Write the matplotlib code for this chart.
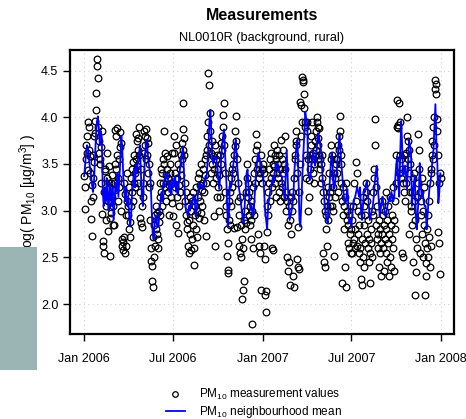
import matplotlib
matplotlib.use("Agg")
import matplotlib.pyplot as plt
import matplotlib.dates as mdates
from matplotlib.lines import Line2D
import numpy as np
import pandas as pd

plt.rcParams["font.family"] = ["Liberation Sans", "DejaVu Sans"]
plt.rcParams["mathtext.fontset"] = "custom"
plt.rcParams["mathtext.rm"] = "Liberation Sans"
plt.rcParams["mathtext.it"] = "Liberation Sans:italic"

TITLE = "Measurements"
SUBTITLE = "NL0010R (background, rural)"
YLABEL = "log( PM$_{10}$ [µg/m$^3$] )"
LEG_POINTS = "PM$_{10}$ measurement values"
LEG_LINE = "PM$_{10}$ neighbourhood mean"

# daily log(PM10) measurements, one list per month
obs_months = {
    "2006-01": [3.37, 3.02, 3.25, 3.55, 3.70, 3.62, 3.80, 3.44, 3.95, 3.90, 3.65, 3.58, 3.40, 3.10, 2.91, 2.73,
                3.28, 3.60, 3.15, 3.35, 3.52, 3.80, 3.96, 3.83, 4.08, 4.26, 4.62, 4.55, 4.42, 3.90, 3.62],
    "2006-02": [3.75, 3.50, 3.55, 3.68, 3.30, 3.85, 2.96, 2.68, 2.62, 3.20, 2.55, 3.45, 3.42, 3.05, 2.90, 3.62,
                3.35, 2.78, 3.10, 3.48, 3.30, 2.92, 2.51, 2.98, 3.30, 3.38, 3.15, 2.85],
    "2006-03": [3.05, 2.85, 3.30, 3.86, 3.50, 3.22, 3.45, 3.80, 3.88, 3.60, 3.10, 3.35, 3.55, 3.25, 3.68, 3.84,
                3.72, 3.00, 2.70, 2.62, 2.66, 2.58, 2.72, 3.30, 2.55, 3.18, 2.95, 2.62, 3.10, 3.40, 3.05],
    "2006-04": [2.95, 3.25, 2.80, 2.72, 2.88, 3.05, 3.35, 3.20, 3.45, 3.52, 3.10, 3.30, 3.60, 3.25, 3.40, 3.55,
                3.82, 3.48, 3.75, 3.65, 3.30, 3.78, 3.90, 3.60, 3.20, 2.92, 3.45, 2.87, 3.05, 2.82],
    "2006-05": [3.15, 3.30, 3.62, 3.85, 3.70, 3.80, 3.87, 3.55, 3.78, 3.60, 3.72, 3.40, 3.50, 3.25, 3.30, 2.90,
                2.46, 2.60, 2.41, 2.25, 2.18, 2.72, 2.50, 2.85, 2.62, 2.95, 3.05, 2.80, 2.75, 2.98, 2.70],
    "2006-06": [2.60, 2.88, 3.00, 3.15, 2.95, 3.30, 3.45, 3.20, 3.05, 3.40, 3.55, 3.30, 3.85, 3.50, 3.62, 3.25,
                3.38, 3.10, 3.45, 3.58, 3.20, 3.35, 3.28, 2.95, 3.40, 3.50, 3.15, 3.30, 3.62, 3.08],
    "2006-07": [3.30, 2.94, 3.62, 3.80, 3.40, 3.25, 2.85, 3.70, 3.35, 3.15, 2.76, 3.50, 3.28, 3.05, 3.45, 3.20,
                3.60, 3.38, 3.72, 3.55, 3.65, 3.87, 4.15, 3.78, 3.60, 3.30, 3.10, 2.95, 3.20, 2.88, 2.80],
    "2006-08": [2.62, 3.05, 2.90, 2.55, 3.15, 2.75, 3.00, 2.58, 3.10, 2.70, 2.85, 3.20, 2.42, 2.60, 3.05, 2.95,
                2.80, 3.25, 3.00, 2.72, 3.35, 3.15, 2.92, 3.40, 3.10, 3.28, 2.98, 3.50, 3.22, 3.05, 3.30],
    "2006-09": [3.45, 2.90, 3.20, 3.55, 3.38, 2.73, 3.60, 3.30, 3.65, 3.80, 4.47, 3.95, 3.70, 4.35, 4.05, 3.85,
                3.40, 3.62, 3.50, 3.75, 3.30, 3.58, 2.94, 3.45, 2.62, 3.70, 3.55, 3.35, 3.60, 3.15],
    "2006-10": [3.45, 3.25, 3.00, 3.38, 3.15, 3.60, 3.50, 3.72, 3.80, 3.65, 3.90, 4.02, 4.15, 3.70, 3.40, 3.20,
                2.95, 3.05, 2.80, 2.51, 2.65, 2.37, 2.33, 2.90, 3.10, 2.85, 3.20, 3.35, 3.05, 3.45, 3.25],
    "2006-11": [3.50, 3.40, 2.81, 3.60, 3.69, 3.85, 4.01, 3.75, 3.55, 2.82, 3.30, 3.10, 2.95, 2.62, 3.15, 2.55,
                2.85, 2.50, 2.70, 2.05, 2.60, 2.15, 2.90, 2.25, 2.80, 3.00, 2.87, 3.20, 3.35, 3.50],
    "2006-12": [3.30, 3.15, 2.95, 3.20, 2.85, 3.05, 2.70, 3.10, 2.90, 1.79, 3.00, 2.60, 3.25, 2.95, 3.40, 3.55,
                3.30, 3.65, 3.82, 3.70, 3.45, 3.50, 2.75, 3.35, 2.62, 3.40, 2.55, 3.60, 2.15, 3.30, 3.45],
    "2007-01": [3.45, 3.50, 2.62, 3.40, 2.48, 2.10, 1.92, 2.14, 2.77, 3.05, 2.95, 3.20, 3.30, 3.45, 3.10, 3.55,
                3.35, 3.62, 2.60, 3.25, 3.40, 2.58, 3.50, 3.70, 3.48, 3.60, 3.30, 3.55, 3.15, 3.40, 3.65],
    "2007-02": [3.35, 3.50, 3.20, 3.60, 3.10, 3.45, 3.30, 3.76, 3.55, 3.25, 3.40, 3.65, 3.50, 3.15, 3.80, 3.45,
                3.20, 3.00, 3.10, 2.50, 2.85, 2.35, 3.05, 2.45, 2.90, 2.20, 3.15, 2.75],
    "2007-03": [3.00, 3.20, 3.10, 2.30, 2.18, 3.35, 3.60, 3.55, 3.75, 3.85, 3.70, 3.40, 2.48, 2.40, 2.83, 2.38,
                3.20, 3.50, 4.16, 4.13, 3.80, 3.95, 4.43, 4.40, 4.38, 4.10, 4.25, 3.90, 3.95, 3.60, 3.35],
    "2007-04": [3.95, 3.85, 3.00, 3.55, 3.33, 3.15, 3.45, 3.60, 3.80, 3.70, 3.55, 3.95, 3.40, 3.62, 3.50, 3.30,
                3.75, 3.58, 3.85, 3.65, 3.95, 4.00, 3.78, 3.90, 3.70, 3.60, 3.88, 3.45, 3.55, 3.30],
    "2007-05": [3.50, 3.60, 3.35, 3.20, 2.55, 3.10, 2.45, 3.00, 2.40, 2.95, 2.80, 2.62, 3.05, 2.90, 3.25, 3.40,
                3.15, 3.05, 3.20, 3.55, 3.70, 3.60, 3.05, 3.00, 3.25, 3.40, 2.52, 3.35, 3.15, 3.50, 3.55],
    "2007-06": [3.40, 3.55, 3.20, 3.70, 3.80, 3.65, 4.01, 3.85, 3.60, 3.30, 3.50, 2.23, 3.10, 3.25, 2.95, 3.05,
                2.80, 3.15, 2.40, 3.30, 2.18, 2.90, 3.00, 2.65, 2.85, 2.95, 2.60, 2.75, 3.05, 2.55],
    "2007-07": [2.80, 2.55, 2.90, 2.65, 3.05, 2.70, 3.30, 2.60, 2.80, 3.10, 3.52, 2.62, 3.40, 2.75, 3.00, 2.55,
                2.85, 2.45, 2.60, 2.27, 2.95, 2.20, 2.70, 3.15, 2.50, 2.85, 3.05, 2.40, 2.95, 2.65, 3.20],
    "2007-08": [3.30, 2.75, 3.10, 2.60, 2.90, 2.45, 2.70, 2.23, 2.55, 2.80, 2.65, 3.00, 2.50, 2.95, 3.20, 3.45,
                3.35, 3.98, 3.70, 3.25, 2.85, 3.05, 2.70, 2.60, 2.75, 2.40, 2.90, 2.55, 2.80, 2.30, 2.65],
    "2007-09": [3.10, 2.75, 2.95, 2.60, 2.35, 2.85, 3.00, 2.70, 2.55, 3.20, 2.80, 2.45, 2.90, 3.05, 2.65, 2.30,
                2.75, 3.15, 2.50, 2.85, 2.40, 2.95, 2.70, 3.25, 2.60, 2.35, 2.90, 3.10, 2.80, 3.30],
    "2007-10": [3.60, 3.90, 4.18, 3.92, 3.88, 4.15, 3.40, 3.95, 3.60, 3.35, 3.55, 2.55, 3.45, 2.50, 3.30, 3.60,
                3.20, 3.45, 3.10, 3.30, 3.62, 3.80, 4.00, 3.75, 3.55, 3.65, 2.75, 3.40, 3.50, 3.20, 3.00],
    "2007-11": [3.05, 3.20, 2.85, 3.35, 2.45, 3.10, 3.40, 2.10, 2.90, 2.34, 2.70, 3.15, 2.60, 3.30, 3.82, 3.65,
                3.45, 2.55, 3.20, 2.95, 3.10, 2.75, 3.35, 2.50, 3.00, 2.85, 3.25, 2.65, 2.10, 2.44],
    "2007-12": [2.30, 2.80, 2.60, 2.95, 2.50, 3.10, 2.72, 3.30, 2.40, 3.45, 2.62, 3.40, 3.60, 3.75, 3.55, 3.90,
                3.70, 4.00, 4.30, 4.40, 4.36, 4.25, 3.98, 3.85, 3.60, 2.77, 2.65, 3.30, 2.32, 3.40, 3.35],
}

# neighbourhood mean, every second day from 1 Jan 2006
nb_mean = [
    3.37, 3.50, 3.62, 3.70, 3.66, 3.55, 3.45, 3.38, 3.28, 3.20,
    3.30, 3.55, 3.80, 3.95, 4.01, 3.88, 3.70, 3.85, 3.78, 3.20,
    3.05, 3.25, 3.10, 3.35, 3.15, 3.00, 3.30, 3.20, 3.05, 3.25,
    2.90, 3.10, 3.30, 3.20, 3.40, 3.15, 3.35, 3.55, 3.80, 3.65,
    3.35, 3.20, 3.10, 3.25, 3.05, 3.15, 2.95, 2.83, 2.95, 3.20,
    3.30, 3.45, 3.25, 3.50, 3.40, 3.55, 3.60, 3.70, 3.40, 3.15,
    3.05, 3.35, 3.55, 3.70, 3.76, 3.60, 3.50, 3.44, 3.30, 3.00,
    2.75, 2.69, 2.85, 2.95, 2.90, 2.83, 2.83, 3.00, 3.10, 3.20,
    3.10, 3.30, 3.25, 3.40, 3.35, 3.40, 3.30, 3.20, 3.30, 3.17,
    3.35, 3.25, 3.30, 3.37, 3.20, 3.30, 3.17, 3.35, 3.45, 3.55,
    3.60, 3.69, 3.40, 3.15, 3.00, 2.98, 2.94, 3.05, 3.00, 3.10,
    3.05, 3.12, 3.17, 3.10, 2.94, 3.00, 3.15, 3.25, 3.30, 3.25,
    3.28, 3.23, 3.25, 3.30, 3.37, 3.35, 3.50, 3.70, 3.95, 4.08,
    3.83, 3.55, 3.50, 3.55, 3.58, 3.58, 3.45, 3.35, 3.23, 3.35,
    3.55, 3.70, 3.80, 3.87, 3.60, 3.40, 3.10, 2.83, 3.00, 3.30,
    3.25, 3.30, 3.45, 3.55, 3.70, 3.76, 3.55, 3.40, 3.25, 3.19,
    3.10, 3.00, 2.92, 2.87, 3.05, 3.25, 3.40, 3.44, 3.25, 3.10,
    3.01, 3.05, 2.98, 2.94, 3.10, 3.30, 3.45, 3.55, 3.62, 3.58,
    3.51, 3.45, 3.40, 3.37, 3.20, 2.98, 2.90, 2.80, 3.05, 3.12,
    3.20, 3.23, 3.30, 3.37, 3.30, 3.42, 3.51, 3.45, 3.50, 3.45,
    3.40, 3.37, 3.37, 3.25, 3.20, 3.12, 3.40, 3.65, 3.35, 3.05,
    2.90, 2.95, 3.00, 3.08, 3.20, 3.45, 3.58, 3.70, 3.76, 3.37,
    2.90, 2.83, 3.10, 3.37, 3.60, 3.85, 4.06, 3.98, 3.94, 3.40,
    3.35, 3.33, 3.45, 3.55, 3.65, 3.55, 3.48, 3.55, 3.70, 3.83,
    3.80, 3.72, 3.65, 3.50, 3.30, 3.19, 3.05, 2.95, 2.90, 2.87,
    3.10, 3.30, 3.50, 3.62, 3.45, 3.23, 3.25, 3.37, 3.40, 3.55,
    3.70, 3.81, 3.65, 3.48, 3.35, 3.20, 3.10, 3.08, 3.15, 3.23,
    3.05, 2.87, 2.90, 2.83, 2.95, 3.05, 3.12, 3.15, 3.20, 3.26,
    3.20, 3.15, 3.25, 3.00, 2.90, 3.05, 3.23, 3.20, 3.28, 3.32,
    3.20, 3.05, 2.90, 2.95, 3.00, 3.05, 3.15, 3.30, 3.40, 3.48,
    3.30, 3.10, 2.94, 3.00, 3.10, 3.15, 3.05, 3.00, 2.94, 2.98,
    3.05, 3.10, 3.15, 3.10, 3.20, 3.15, 3.10, 3.15, 3.35, 3.50,
    3.58, 3.30, 3.15, 3.60, 3.96, 3.70, 3.37, 3.40, 3.48, 3.35,
    3.23, 3.50, 3.76, 3.70, 3.65, 3.05, 3.20, 3.30, 3.37, 2.95,
    2.80, 3.00, 3.15, 3.51, 3.30, 3.15, 3.20, 3.10, 3.05, 3.05,
    2.80, 2.95, 3.12, 3.25, 3.30, 3.40, 3.55, 3.65, 3.90, 4.14,
    3.72, 3.50, 3.08, 3.20, 3.40,
]

YTICKS = [2.0, 2.5, 3.0, 3.5, 4.0, 4.5]
XTICKS = ["2006-01-01", "2006-07-01", "2007-01-01", "2007-07-01", "2008-01-01"]

# build the daily series
obs_dates = []
obs_vals = []
for month, vals in obs_months.items():
    start = pd.Timestamp(month + "-01")
    obs_dates.extend(start + pd.to_timedelta(np.arange(len(vals)), unit="D"))
    obs_vals.extend(vals)
obs = pd.Series(obs_vals, index=pd.DatetimeIndex(obs_dates))
nb = pd.Series(nb_mean, index=pd.date_range("2006-01-01", periods=len(nb_mean), freq="2D"))

fig = plt.figure(figsize=(4.66, 4.19), dpi=100)
ax = fig.add_axes([70 / 466, 1 - 334 / 419, 384 / 466, 284 / 419])

ax.plot(obs.index, obs.values, "o", mfc="none", mec="black", ms=4.8, mew=0.9, zorder=3)
ax.plot(nb.index, nb.values, color="#0000ff", lw=1.3, zorder=4)

ax.set_xlim(pd.Timestamp("2005-12-03"), pd.Timestamp("2008-01-27"))
ax.set_ylim(1.68, 4.72)
ax.set_yticks(YTICKS)
ax.set_yticklabels(["%.1f" % t for t in YTICKS])
ax.set_xticks([pd.Timestamp(t) for t in XTICKS])
ax.xaxis.set_major_formatter(mdates.DateFormatter("%b %Y"))
ax.tick_params(direction="out", length=5, width=1, labelsize=9, colors="black")
ax.tick_params(axis="x", pad=9)
ax.grid(True, color="#d0d0d0", linestyle=(0, (1, 3)), linewidth=0.8, zorder=0)
for s in ax.spines.values():
    s.set_linewidth(1.6)

ax.set_ylabel(YLABEL, fontsize=10)
ax.yaxis.set_label_coords(-0.08, 0.5)
fig.text(262 / 466, 1 - 16 / 419, TITLE, ha="center", va="center", fontsize=11.5, fontweight="bold")
fig.text(262 / 466, 1 - 38 / 419, SUBTITLE, ha="center", va="center", fontsize=9.2)

handles = [
    Line2D([], [], marker="o", ls="none", mfc="none", mec="black", ms=4, mew=0.9),
    Line2D([], [], color="#0000ff", lw=1.3),
]
fig.legend(handles, [LEG_POINTS, LEG_LINE], loc="upper left",
           bbox_to_anchor=(160 / 466, 1 - 381 / 419), frameon=False,
           fontsize=8.5, handlelength=1.6, handletextpad=1.2, labelspacing=0.2,
           borderpad=0)

# grey box over the lower part of the axis label
fig.patches.append(plt.Rectangle((0, 1 - 370 / 419), 37 / 466, 123 / 419,
                                 transform=fig.transFigure, facecolor="#9bb5b5",
                                 edgecolor="none", zorder=10))

fig.savefig("out.png", dpi=100)
